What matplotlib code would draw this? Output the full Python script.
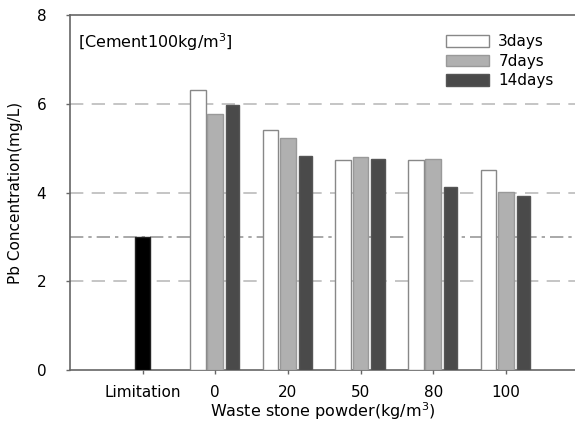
import matplotlib.pyplot as plt
import numpy as np

groups = ["Limitation", "0", "20", "50", "80", "100"]
limitation = 3.0
days3 = [6.3, 5.4, 4.74, 4.74, 4.5]
days7 = [5.78, 5.23, 4.8, 4.75, 4.02]
days14 = [5.97, 4.83, 4.76, 4.13, 3.92]

fig = plt.figure(figsize=(5.75, 4.3), dpi=100)
ax = fig.add_axes([0.1217, 0.1395, 0.8783, 0.8255])

x = np.arange(1, 6)
w = 0.215
off = 0.24
ax.bar(0, limitation, width=0.2, color="black", edgecolor="#222222", zorder=3)
ax.bar(x - off, days3, width=w, color="white", edgecolor="#888888", linewidth=1, label="3days", zorder=3)
ax.bar(x, days7, width=w, color="#b0b0b0", edgecolor="#999999", linewidth=1, label="7days", zorder=3)
ax.bar(x + off, days14, width=w * 0.85, color="#4a4a4a", edgecolor="#555555", linewidth=1, label="14days", zorder=3)

# guide lines
for yv in [2, 4, 6]:
    ax.axhline(yv, color="#bbbbbb", linestyle=(0, (8, 5)), linewidth=1.2, zorder=1)
ax.axhline(3, color="#999999", linestyle=(0, (8, 3, 2, 3)), linewidth=1.2, zorder=1)

ax.set_xlim(-1, 5.95)
ax.set_ylim(0, 8)
ax.set_yticks([0, 2, 4, 6, 8])
ax.set_xticks(range(6))
ax.set_xticklabels(groups)
ax.tick_params(direction="out", length=3, width=1, color="#666666", labelsize=11)
ax.tick_params(axis="y", pad=14)
ax.tick_params(axis="x", pad=8)

ax.spines["right"].set_visible(False)
for s in ["left", "bottom", "top"]:
    ax.spines[s].set_color("#666666")
    ax.spines[s].set_linewidth(1.2)

ax.set_ylabel("Pb Concentration(mg/L)", fontsize=11, labelpad=10)
ax.set_xlabel("Waste stone powder(kg/m$^3$)", fontsize=11.5, labelpad=0)
ax.text(0.015, 0.955, "[Cement100kg/m$^3$]", transform=ax.transAxes, fontsize=11.5, va="top")

ax.legend(loc="upper right", bbox_to_anchor=(0.985, 0.985), frameon=False, fontsize=11,
          handlelength=2.8, handleheight=0.8, labelspacing=0.3, handletextpad=0.6)

fig.savefig("out.png", dpi=100)
